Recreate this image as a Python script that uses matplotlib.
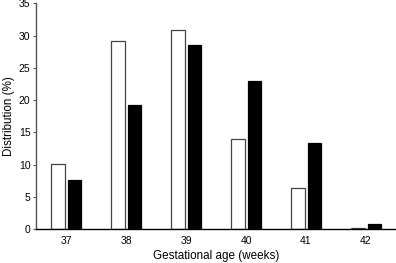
import matplotlib
matplotlib.use("Agg")
import matplotlib.pyplot as plt
import numpy as np

plt.rcParams['font.family'] = ['Liberation Sans', 'DejaVu Sans']

categories = ["37", "38", "39", "40", "41", "42"]
white_vals = [10.1, 29.1, 30.9, 13.9, 6.3, 0.2]
black_vals = [7.6, 19.2, 28.5, 22.9, 13.4, 0.8]

fig = plt.figure(figsize=(3.96, 2.63), dpi=100)
ax = fig.add_axes([0.091, 0.129, 0.909, 0.858])

x = np.arange(len(categories))
w = 0.23
off = 0.14
ax.bar(x - off, white_vals, w, color='white', edgecolor='#444444', linewidth=0.9)
ax.bar(x + off, black_vals, w, color='black', edgecolor='black', linewidth=0.9)

ax.set_xlim(-0.5, 5.5)
ax.set_ylim(0, 35)
ax.set_yticks(range(0, 36, 5))
ax.set_xticks(x)
ax.set_xticklabels(categories)
ax.tick_params(axis='x', length=0, labelsize=7.5, pad=5)
ax.tick_params(axis='y', length=2, width=0.8, color='#555555', labelsize=7.5, pad=2)
ax.spines['top'].set_visible(False)
ax.spines['right'].set_visible(False)
ax.spines['left'].set_color('#555555')
ax.spines['left'].set_linewidth(1.0)
ax.spines['bottom'].set_color('black')
ax.spines['bottom'].set_linewidth(1.0)
ax.set_xlabel('Gestational age (weeks)', fontsize=8.4, labelpad=3)
ax.set_ylabel('Distribution (%)', fontsize=8.4, labelpad=3)

fig.savefig('out.png', dpi=100)
